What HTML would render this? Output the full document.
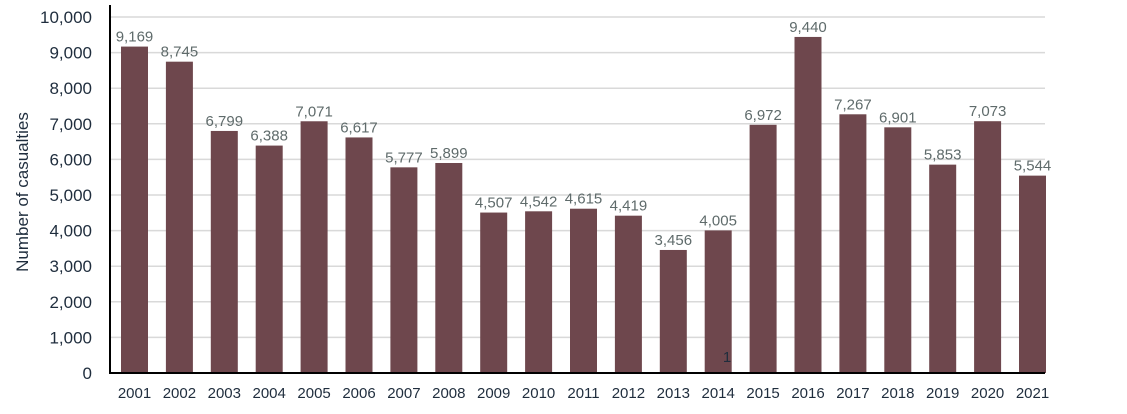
<!DOCTYPE html>
<html><head><meta charset="utf-8"><style>
body{margin:0;background:#fff;}
svg{display:block;font-family:"Liberation Sans",sans-serif;}
</style></head><body>
<svg id="chart" width="1127" height="414"></svg>
<script>
const categories=["2001","2002","2003","2004","2005","2006","2007","2008","2009","2010","2011","2012","2013","2014","2015","2016","2017","2018","2019","2020","2021"];
const values=[9169,8745,6799,6388,7071,6617,5777,5899,4507,4542,4615,4419,3456,4005,6972,9440,7267,6901,5853,7073,5544];
const valueLabels=["9,169","8,745","6,799","6,388","7,071","6,617","5,777","5,899","4,507","4,542","4,615","4,419","3,456","4,005","6,972","9,440","7,267","6,901","5,853","7,073","5,544"];
const ticks=[0,1000,2000,3000,4000,5000,6000,7000,8000,9000,10000];
const tickLabels=["0","1,000","2,000","3,000","4,000","5,000","6,000","7,000","8,000","9,000","10,000"];
const NS="http://www.w3.org/2000/svg";
const svg=document.getElementById('chart');
const y0=373,pxPer=35.6/1000,left=110,right=1045,x0=134.5,step=44.9,bw=27;
const y=v=>y0-v*pxPer;
const x=i=>x0+i*step;
function mk(t,a,txt){const e=document.createElementNS(NS,t);for(const k in a)e.setAttribute(k,a[k]);if(txt!=null)e.textContent=txt;svg.appendChild(e);return e;}
ticks.forEach((t,i)=>{
  if(t>0){const g=mk('line',{x1:left,x2:right,y1:y(t),y2:y(t),stroke:'#d9d9d9','stroke-width':1.5});
  
  }
  const l=mk('text',{x:92,y:y(t)+6,'text-anchor':'end','font-size':17,fill:'#1f2d3d'},tickLabels[i]);
  
  
});
values.forEach((v,i)=>{
  const b=mk('rect',{x:x(i)-bw/2,y:y(v),width:bw,height:y0-y(v),fill:'#6e474d'});
  
  
  const vl=mk('text',{x:x(i),y:y(v)-5,'text-anchor':'middle','font-size':15,fill:'#5f6b6b'},valueLabels[i]);
  
  
  const cl=mk('text',{x:x(i),y:398,'text-anchor':'middle','font-size':15,fill:'#1f2d3d'},categories[i]);
  
  
});
const ax=mk('line',{x1:left,x2:left,y1:5,y2:y0+1,stroke:'#000','stroke-width':2});


const bx=mk('line',{x1:left,x2:right,y1:y0,y2:y0,stroke:'#000','stroke-width':2});


const s=mk('text',{x:727,y:362,'text-anchor':'middle','font-size':15,fill:'#1f2d3d'},'1');


const yt=mk('text',{x:0,y:0,'text-anchor':'middle','font-size':17,fill:'#1f2d3d',transform:'translate(28,192) rotate(-90)'},'Number of casualties');


</script>
</body></html>
